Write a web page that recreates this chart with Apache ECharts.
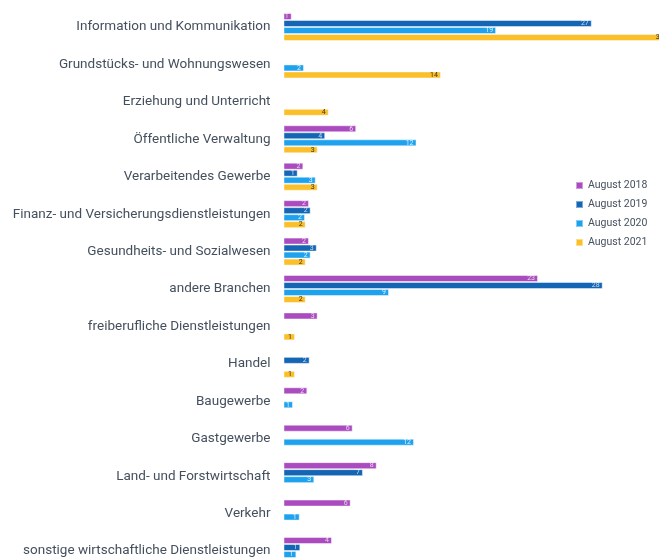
<!DOCTYPE html>
<html>
<head>
<meta charset="utf-8">
<script src="https://cdn.jsdelivr.net/npm/echarts@6/dist/echarts.min.js"></script>
<style>
  html, body { margin: 0; padding: 0; background: #fff; }
  #chart { width: 659px; height: 558px; }
</style>
</head>
<body>
<div id="chart"></div>
<script>
// Branchen (top to bottom)
const categories = [
  'Information und Kommunikation',
  'Grundstücks- und Wohnungswesen',
  'Erziehung und Unterricht',
  'Öffentliche Verwaltung',
  'Verarbeitendes Gewerbe',
  'Finanz- und Versicherungsdienstleistungen',
  'Gesundheits- und Sozialwesen',
  'andere Branchen',
  'freiberufliche Dienstleistungen',
  'Handel',
  'Baugewerbe',
  'Gastgewerbe',
  'Land- und Forstwirtschaft',
  'Verkehr',
  'sonstige wirtschaftliche Dienstleistungen'
];

const seriesNames = ['August 2018', 'August 2019', 'August 2020', 'August 2021'];

// Anteile je Branche (null = kein Wert)
const aug2018 = [0.73, null, null, 6.45, 1.76, 2.26, 2.26, 22.58, 3.03, null, 2.11, 6.14, 8.27, 5.96, 4.3];
const aug2019 = [27.35, null, null, 3.7, 1.26, 2.41, 2.95, 28.32, null, 2.32, null, null, 7.05, null, 1.49];
const aug2020 = [18.86, 1.82, null, 11.8, 2.86, 1.91, 2.41, 9.36, null, null, 0.84, 11.58, 2.73, 1.44, 1.14];
const aug2021 = [34.0, 13.97, 4.01, 3.03, 3.03, 1.97, 1.97, 1.97, 1.02, 1.02, null, null, null, null, 1.2];

const colors = ['#AB4BC0', '#1565B5', '#1FA2EE', '#FBBF2A'];
const labelColors = ['rgba(255,255,255,0.75)', 'rgba(255,255,255,0.75)', 'rgba(255,255,255,0.85)', '#3a3320'];
const values = [aug2018, aug2019, aug2020, aug2021];

const series = seriesNames.map((name, i) => ({
  name: name,
  type: 'bar',
  data: values[i],
  barWidth: 7,
  barGap: '0%',
  itemStyle: {
    color: colors[i],
    borderColor: 'rgba(255,255,255,0.45)',
    borderWidth: 1
  },
  label: {
    show: true,
    position: 'insideRight',
    distance: 3,
    fontSize: 7,
    fontFamily: 'Roboto',
    color: labelColors[i],
    formatter: p => (p.value == null ? '' : Math.round(p.value))
  },
  emphasis: { disabled: true }
}));

const chart = echarts.init(document.getElementById('chart'), null, { renderer: 'canvas' });
chart.setOption({
  animation: false,
  backgroundColor: '#ffffff',
  grid: {
    left: 283.5, top: 8.3, width: 394.5, height: 561.4,
    containLabel: false,
    outerBoundsMode: 'none'
  },
  xAxis: {
    type: 'value',
    min: 0,
    max: 35,
    show: false
  },
  yAxis: {
    type: 'category',
    data: categories,
    inverse: true,
    axisLine: { show: false },
    axisTick: { show: false },
    splitLine: { show: false },
    axisLabel: {
      margin: 13,
      fontFamily: 'Roboto',
      fontSize: 13.5,
      color: '#45505e',
      padding: [3, 0, 0, 0]
    }
  },
  legend: {
    orient: 'vertical',
    left: 575,
    top: 180,
    padding: 0,
    itemWidth: 7,
    itemHeight: 7,
    itemGap: 8,
    icon: 'rect',
    textStyle: { fontFamily: 'Roboto', fontSize: 10.5, color: '#45505e' },
    data: seriesNames
  },
  series: series
});
</script>
</body>
</html>
